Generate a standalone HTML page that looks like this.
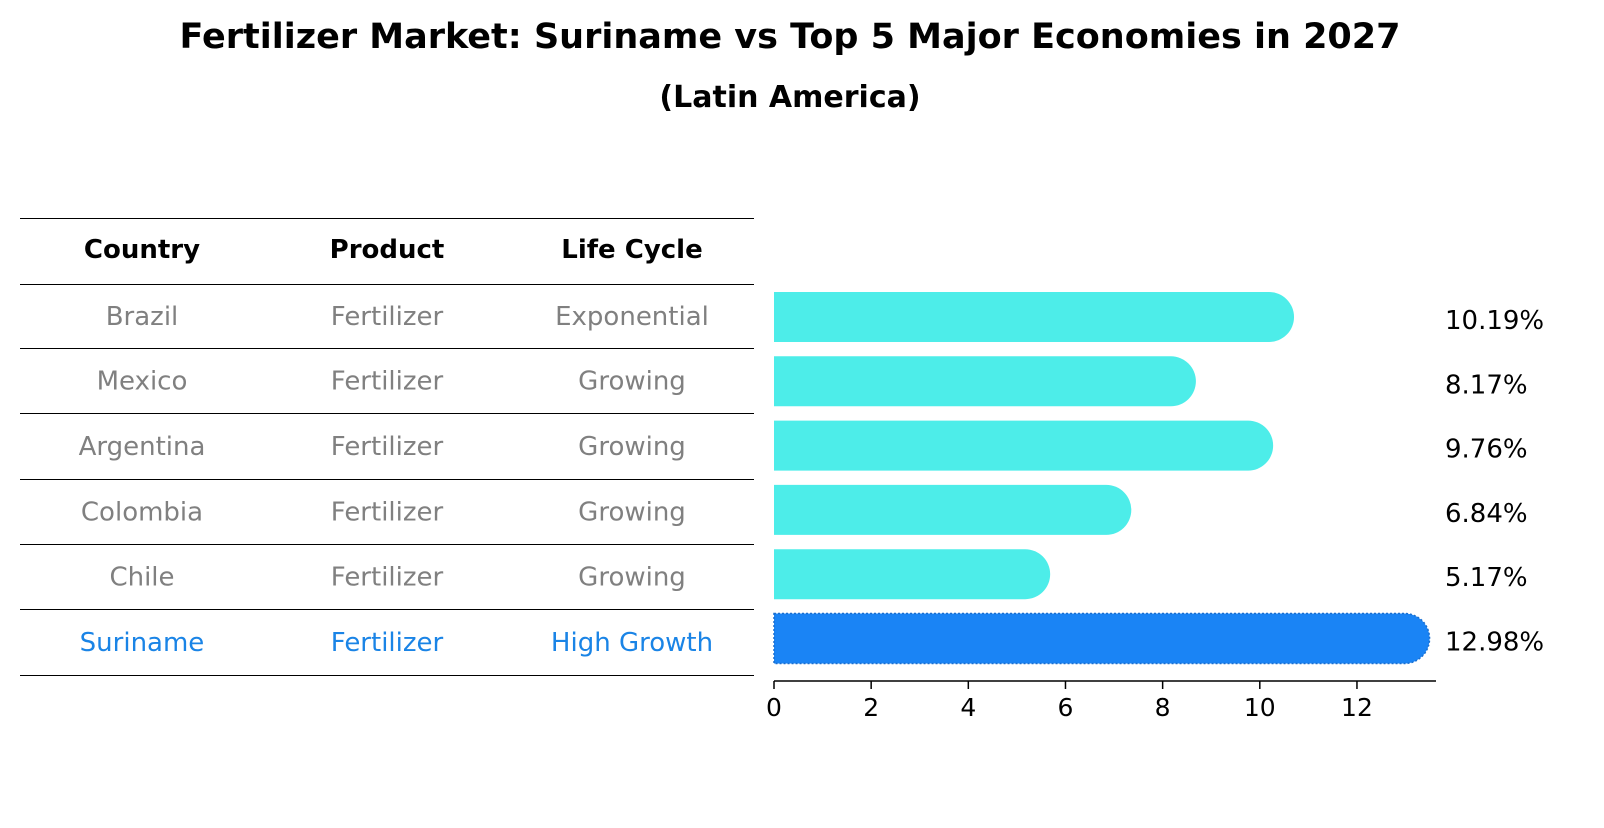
<!DOCTYPE html>
<html><head><meta charset="utf-8"><style>
body{margin:0;background:#fff;}
svg text{font-family:"DejaVu Sans","Liberation Sans",sans-serif;}
</style></head><body>
<svg id="c" width="1604" height="823" viewBox="0 0 1604 823">
<text x="790" y="48" text-anchor="middle" font-size="35" font-weight="bold">Fertilizer Market: Suriname vs Top 5 Major Economies in 2027</text>
<text x="790" y="107" text-anchor="middle" font-size="30" font-weight="bold">(Latin America)</text>
<g id="tbl"></g>
<g id="bars"></g>
</svg>
<script>
const countries=["Brazil","Mexico","Argentina","Colombia","Chile","Suriname"];
const products=["Fertilizer","Fertilizer","Fertilizer","Fertilizer","Fertilizer","Fertilizer"];
const lifeCycles=["Exponential","Growing","Growing","Growing","Growing","High Growth"];
const values=[10.19,8.17,9.76,6.84,5.17,12.98];
const xTicks=[0,2,4,6,8,10,12];
const NS="http://www.w3.org/2000/svg";
function mk(t,a,p,txt){const e=document.createElementNS(NS,t);for(const k in a)e.setAttribute(k,a[k]);if(txt!==undefined)e.textContent=txt;p.appendChild(e);return e;}
const tbl=document.getElementById('tbl'),bars=document.getElementById('bars');
const lineYs=[218,284,348,413,479,544,609,675];
lineYs.forEach(y=>{const l=mk('line',{x1:20,x2:754,y1:y+0.5,y2:y+0.5,stroke:'#000','stroke-width':1},tbl);

});
const colX=[142,387,632],heads=["Country","Product","Life Cycle"];
heads.forEach((h,i)=>{const t=mk('text',{x:colX[i],y:258,'text-anchor':'middle','font-size':26,'font-weight':'bold'},tbl,h);

});
const rowC=i=>(lineYs[i+1]+lineYs[i+2])/2;
const barC=i=>317+i*64.3;
const xs=v=>774+v*48.58;
countries.forEach((c,i)=>{
 const col=i===5?'#1a84e6':'#808080';
 [c,products[i],lifeCycles[i]].forEach((s,j)=>{const t=mk('text',{x:colX[j],y:rowC(i)+9,'text-anchor':'middle','font-size':26,fill:col},tbl,s);
 
 });
 const y=barC(i),h=50,x1=xs(values[i]);
 const fill=i===5?'#1a84f5':'#4dede9';
 const p=mk('path',{d:`M774 ${y-h/2} H${x1} A25 25 0 0 1 ${x1} ${y+h/2} H774 Z`,fill:fill},bars);
 if(i===5){p.setAttribute('stroke','#1a6fd0');p.setAttribute('stroke-width','1.5');p.setAttribute('stroke-dasharray','2 2');}
 
 
 const t=mk('text',{x:1445,y:y+12,'font-size':26},bars,values[i].toFixed(2)+'%');
 
 
});
const ax=mk('line',{x1:774,x2:1436,y1:681,y2:681,stroke:'#000','stroke-width':1.5},bars);


xTicks.forEach(v=>{const tk=mk('line',{x1:xs(v),x2:xs(v),y1:681,y2:689,stroke:'#000','stroke-width':1.5},bars);


const t=mk('text',{x:xs(v),y:716,'text-anchor':'middle','font-size':25},bars,String(v));

});
</script>
</body></html>
